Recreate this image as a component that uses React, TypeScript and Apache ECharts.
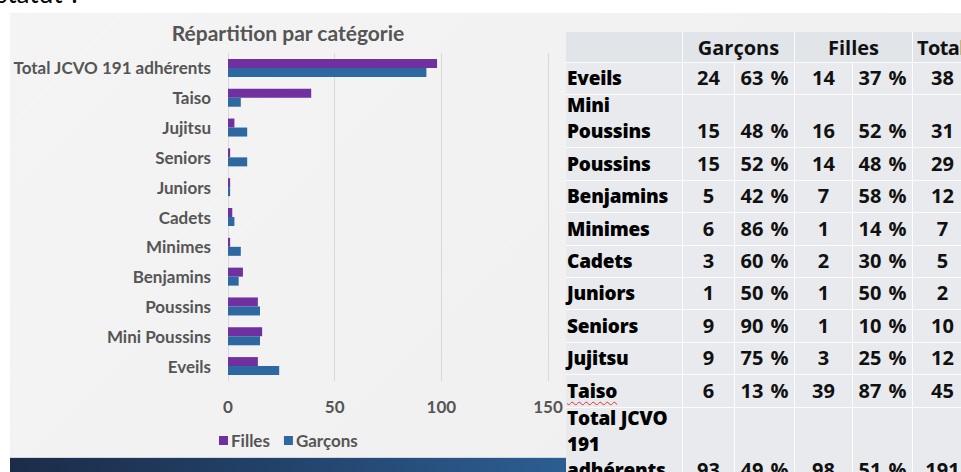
import React, { useEffect, useRef } from "react";
import * as echarts from "echarts";

const categories = [
  "Eveils",
  "Mini Poussins",
  "Poussins",
  "Benjamins",
  "Minimes",
  "Cadets",
  "Juniors",
  "Seniors",
  "Jujitsu",
  "Taiso",
  "Total JCVO 191 adhérents",
];
const garcons = [24, 15, 15, 5, 6, 3, 1, 9, 9, 6, 93];
const filles = [14, 16, 14, 7, 1, 2, 1, 1, 3, 39, 98];
const garconsPct = ["63 %", "48 %", "52 %", "42 %", "86 %", "60 %", "50 %", "90 %", "75 %", "13 %", "49 %"];
const fillesPct = ["37 %", "52 %", "48 %", "58 %", "14 %", "30 %", "50 %", "10 %", "25 %", "87 %", "51 %"];
const totals = [38, 31, 29, 12, 7, 5, 2, 10, 12, 45, 191];
const tableLabels = [
  ["Eveils"],
  ["Mini", "Poussins"],
  ["Poussins"],
  ["Benjamins"],
  ["Minimes"],
  ["Cadets"],
  ["Juniors"],
  ["Seniors"],
  ["Jujitsu"],
  ["Taiso"],
  ["Total JCVO", "191", "adhérents"],
];
const headerLabels = ["Garçons", "Filles", "Total"];
const xTicks = { min: 0, max: 150, interval: 50 };

const FONT = "Lato, 'Open Sans', sans-serif";
const TFONT = "'Open Sans', Lato, sans-serif";
const PURPLE = "#7030a0";
const BLUE = "#2e68a0";
const GREY = "#555555";

function Chart() {
  const ref = useRef<HTMLDivElement>(null);
  useEffect(() => {
    if (!ref.current) return;
    const chart = echarts.init(ref.current, undefined, { renderer: "svg" });
    chart.setOption({
      animation: false,
      backgroundColor: "transparent",
      title: {
        text: "Répartition par catégorie",
        left: "center",
        top: 4,
        textStyle: { fontFamily: FONT, fontSize: 21, fontWeight: "bold", color: GREY },
      },
      legend: {
        data: ["Filles", "Garçons"],
        top: 414,
        left: 204,
        itemWidth: 9,
        itemHeight: 9,
        itemGap: 14,
        icon: "rect",
        textStyle: { fontFamily: FONT, fontSize: 17, fontWeight: "bold", color: GREY, padding: [0, 0, 0, -2] },
      },
      grid: { left: 218, right: 18, top: 40, bottom: 77, containLabel: false },
      xAxis: {
        type: "value",
        min: xTicks.min,
        max: xTicks.max,
        interval: xTicks.interval,
        axisLine: { show: false },
        axisTick: { show: false },
        splitLine: { lineStyle: { color: "#d9d9d9", width: 1 } },
        axisLabel: { fontFamily: FONT, fontSize: 17, fontWeight: "bold", color: GREY, margin: 17 },
      },
      yAxis: {
        type: "category",
        data: categories,
        axisLine: { show: true, lineStyle: { color: "#d9d9d9" } },
        axisTick: { show: false },
        axisLabel: { fontFamily: FONT, fontSize: 17, fontWeight: "bold", color: GREY, margin: 17 },
      },
      series: [
        {
          name: "Filles",
          type: "bar",
          data: filles,
          barWidth: 9,
          barGap: "0%",
          itemStyle: { color: PURPLE },
        },
        {
          name: "Garçons",
          type: "bar",
          data: garcons,
          barWidth: 9,
          barGap: "0%",
          itemStyle: { color: BLUE },
        },
      ],
    });
    return () => chart.dispose();
  }, []);
  return <div ref={ref} style={{ position: "absolute", left: 10, top: 13, width: 556, height: 445 }} />;
}

const colLefts = [566, 683, 735, 795, 853, 913];
const colWidths = [117, 52, 60, 58, 60, 60];
const LINE = 26;

function Table() {
  const cells: React.ReactNode[] = [];
  const bg = "#e8eaed";
  const hbg = "#e1e4e8";
  const border = "1px solid rgba(255,255,255,0.85)";
  const headerTop = 32;
  const headerH = 31;
  cells.push(
    <div key="h0" style={{ position: "absolute", left: colLefts[0], top: headerTop, width: colWidths[0], height: headerH, background: hbg, borderRight: border, borderBottom: border, boxSizing: "border-box" }} />
  );
  const spans = [
    [1, 2],
    [3, 4],
    [5, 5],
  ];
  spans.forEach(([a, b], i) => {
    const left = colLefts[a];
    const width = colLefts[b] + colWidths[b] - left;
    cells.push(
      <div
        key={"h" + (i + 1)}
        style={{
          position: "absolute",
          left,
          top: headerTop,
          width,
          height: headerH,
          background: hbg,
          borderRight: border,
          borderBottom: border,
          boxSizing: "border-box",
          display: "flex",
          alignItems: "center",
          justifyContent: i === 2 ? "flex-start" : "center",
          paddingLeft: i === 2 ? 4 : 0,
          fontFamily: TFONT,
          fontWeight: 700,
          fontSize: 20,
          letterSpacing: i === 2 ? -0.6 : 0,
          color: "#111",
          whiteSpace: "nowrap",
        }}
      >
        {headerLabels[i]}
      </div>
    );
  });
  let top = headerTop + headerH;
  categories.forEach((_, r) => {
    const lines = tableLabels[r];
    const h = lines.length === 1 ? 32.4 : lines.length * LINE + 1;
    const values = [garcons[r], garconsPct[r], filles[r], fillesPct[r], totals[r]];
    const base: React.CSSProperties = {
      position: "absolute",
      top,
      height: h,
      background: bg,
      borderRight: border,
      borderBottom: border,
      boxSizing: "border-box",
      display: "flex",
      flexDirection: "column",
      justifyContent: "flex-end",
      paddingBottom: 3,
      lineHeight: LINE + "px",
      fontFamily: TFONT,
      fontSize: 20,
      color: "#111",
    };
    cells.push(
      <div key={"l" + r} style={{ ...base, left: colLefts[0], width: colWidths[0], paddingLeft: 1, fontWeight: 800, fontSize: 19, color: "#000", letterSpacing: -0.2 }}>
        {lines.map((t, k) => (
          <span
            key={k}
            style={
              t === "Taiso"
                ? { textDecoration: "underline wavy #e03030", textDecorationThickness: 1, textUnderlineOffset: 3, whiteSpace: "nowrap" }
                : { whiteSpace: "nowrap" }
            }
          >
            {t}
          </span>
        ))}
      </div>
    );
    values.forEach((v, c) => {
      cells.push(
        <div key={"c" + r + "-" + c} style={{ ...base, left: colLefts[c + 1], width: colWidths[c + 1], alignItems: "center", fontWeight: 700, whiteSpace: "nowrap", wordSpacing: 2 }}>
          <span>{String(v)}</span>
        </div>
      );
    });
    top += h;
  });
  return <>{cells}</>;
}

export default function App() {
  return (
    <div style={{ position: "fixed", left: 0, top: 0, width: 961, height: 472, overflow: "hidden", background: "#ffffff" }}>
      <div style={{ position: "absolute", left: -4, top: -23, fontFamily: FONT, fontSize: 26, color: "#000", whiteSpace: "nowrap" }}>statut ?</div>
      <div style={{ position: "absolute", left: 10, top: 13, width: 951, height: 459, background: "linear-gradient(135deg, #f4f4f4 0%, #f1f1f1 60%, #eeeeee 100%)" }} />
      <Chart />
      <div style={{ position: "absolute", left: 10, top: 457, width: 556, height: 1, background: "#cfd6de" }} />
      <div style={{ position: "absolute", left: 10, top: 458, width: 556, height: 14, background: "linear-gradient(90deg, #1b2c48 0%, #23436b 50%, #2c5e92 100%)" }} />
      <Table />
    </div>
  );
}
